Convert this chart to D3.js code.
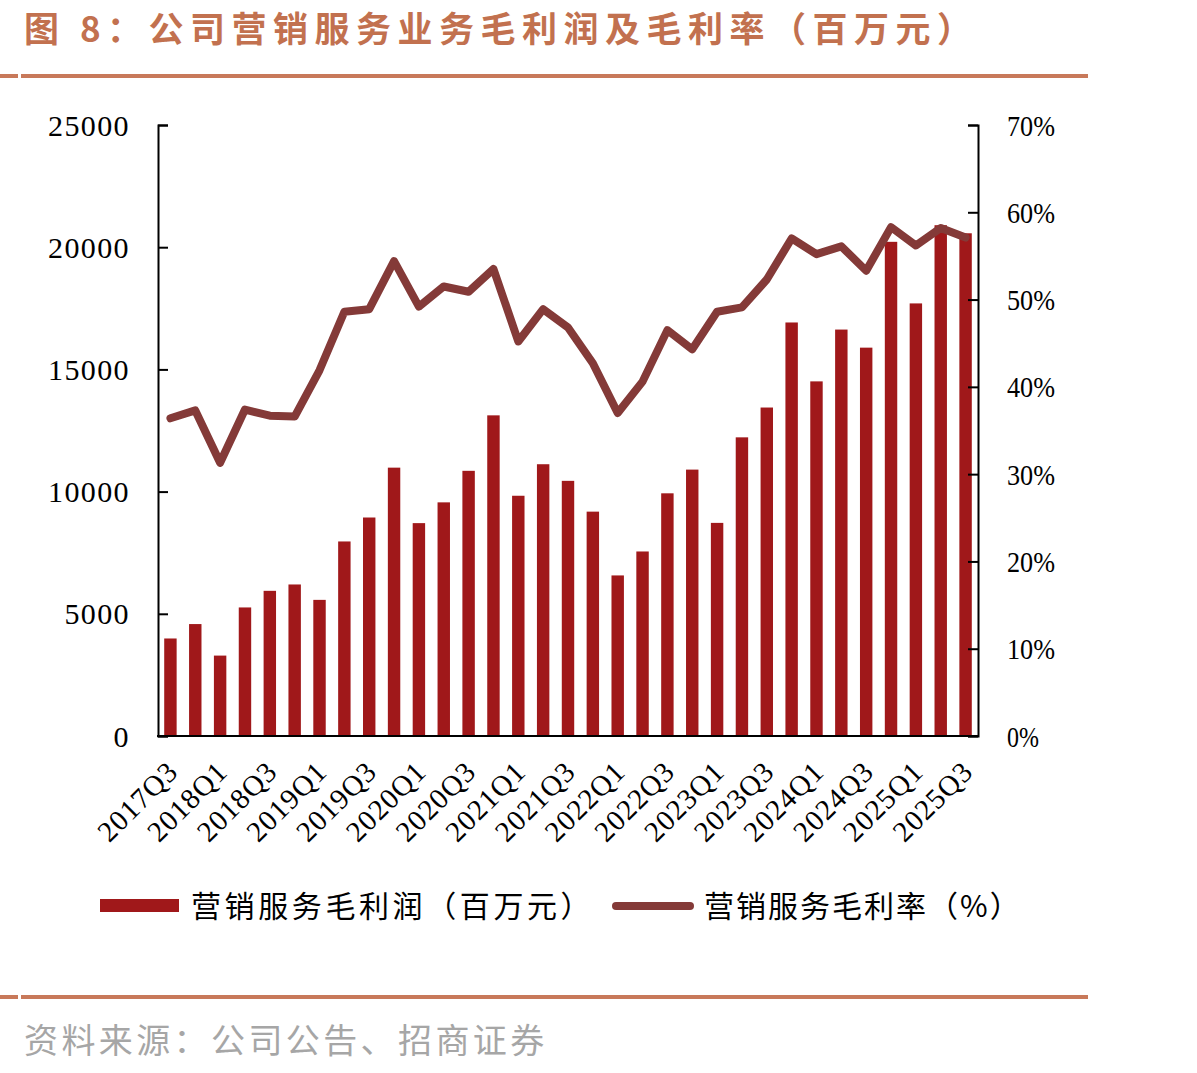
<!DOCTYPE html>
<html><head><meta charset="utf-8">
<script src="https://cdn.jsdelivr.net/npm/d3@7"></script>
<style>
html,body{margin:0;padding:0;background:#fff;}
svg{display:block;}
</style></head>
<body>
<svg id="chart" width="1197" height="1073"></svg>
<script>
const categories = ["2017Q3","2017Q4","2018Q1","2018Q2","2018Q3","2018Q4","2019Q1","2019Q2","2019Q3","2019Q4",
  "2020Q1","2020Q2","2020Q3","2020Q4","2021Q1","2021Q2","2021Q3","2021Q4","2022Q1","2022Q2","2022Q3","2022Q4",
  "2023Q1","2023Q2","2023Q3","2023Q4","2024Q1","2024Q2","2024Q3","2024Q4","2025Q1","2025Q2","2025Q3"];
const grossProfit = [3990,4580,3290,5260,5940,6200,5570,7960,8940,10980,
  8710,9560,10850,13120,9830,11120,10440,9180,6570,7550,9930,10900,
  8720,12220,13440,16920,14510,16630,15890,20220,17700,20900,20570];
const grossMargin = [36.4,37.3,31.3,37.4,36.7,36.6,41.9,48.6,48.9,54.4,
  49.2,51.5,50.9,53.5,45.2,48.9,46.8,42.7,37.0,40.6,46.5,44.3,
  48.6,49.1,52.3,57.0,55.2,56.1,53.3,58.3,56.2,58.2,57.1];
const leftTicks = [0,5000,10000,15000,20000,25000];
const rightTicks = [0,10,20,30,40,50,60,70];
const titleText = "图 8：公司营销服务业务毛利润及毛利率（百万元）";
const legendBar = "营销服务毛利润（百万元）";
const legendLine = "营销服务毛利率（%）";
const sourceText = "资料来源：公司公告、招商证券";

const svg = d3.select("#chart");
const L = 158, R = 978, T = 125, B = 736;
const barColor = "#a0181a", lineColor = "#843a38", accent = "#c8795a";
const serif = "'Liberation Serif','Times New Roman',serif";
const cjk = "'Noto Sans CJK SC','Noto Sans',sans-serif";

const x = d3.scaleBand().domain(categories).range([L, R]).paddingInner(0.5).paddingOuter(0.25);
const yL = d3.scaleLinear().domain([0, 25000]).range([B, T]);
const yR = d3.scaleLinear().domain([0, 70]).range([B, T]);

// title
svg.append("text").attr("x", 24).attr("y", 42).attr("font-family", cjk).attr("font-weight", "bold")
  .attr("font-size", 35).attr("fill", "#c2714f").attr("letter-spacing", 6.5).text(titleText);
svg.append("rect").attr("x", 0).attr("y", 74).attr("width", 18).attr("height", 4).attr("fill", accent);
svg.append("rect").attr("x", 21).attr("y", 74).attr("width", 1067).attr("height", 4).attr("fill", accent);
svg.append("rect").attr("x", 0).attr("y", 995).attr("width", 18).attr("height", 4).attr("fill", accent);
svg.append("rect").attr("x", 21).attr("y", 995).attr("width", 1067).attr("height", 4).attr("fill", accent);

// bars
svg.append("g").selectAll("rect").data(categories).join("rect")
  .attr("x", d => x(d)).attr("width", x.bandwidth())
  .attr("y", (d, i) => yL(grossProfit[i])).attr("height", (d, i) => B - yL(grossProfit[i]))
  .attr("fill", barColor);

// line
const line = d3.line().x((d, i) => x(categories[i]) + x.bandwidth() / 2).y(d => yR(d));
svg.append("path").datum(grossMargin).attr("d", line).attr("fill", "none")
  .attr("stroke", lineColor).attr("stroke-width", 8).attr("stroke-linejoin", "round").attr("stroke-linecap", "round");

// axes
const axL = svg.append("g").attr("transform", `translate(${L},0)`)
  .call(d3.axisRight(yL).tickValues(leftTicks).tickSize(10).tickFormat(d3.format("d")));
axL.selectAll("text").remove();
const axR = svg.append("g").attr("transform", `translate(${R},0)`)
  .call(d3.axisLeft(yR).tickValues(rightTicks).tickSize(10));
axR.selectAll("text").remove();
[axL, axR].forEach(a => {
  a.select(".domain").attr("stroke", "#000").attr("stroke-width", 2);
  a.selectAll(".tick line").attr("stroke", "#000").attr("stroke-width", 2);
});
svg.append("line").attr("x1", L - 1).attr("x2", R + 1).attr("y1", B).attr("y2", B)
  .attr("stroke", "#000").attr("stroke-width", 2);

// left tick labels
svg.append("g").selectAll("text").data(leftTicks).join("text")
  .attr("x", 130).attr("y", d => yL(d)).attr("dy", "0.35em").attr("text-anchor", "end")
  .attr("font-family", serif).attr("font-size", 30).attr("letter-spacing", 1.4).text(d => d);
// right tick labels
svg.append("g").selectAll("text").data(rightTicks).join("text")
  .attr("x", 1007).attr("y", d => yR(d)).attr("dy", "0.35em").attr("text-anchor", "start")
  .attr("font-family", serif).attr("font-size", 30)
  .attr("textLength", d => String(d).length * 16 + 16).attr("lengthAdjust", "spacingAndGlyphs")
  .text(d => d + "%");

// x labels
const xLabels = categories.filter((d, i) => i % 2 === 0);
svg.append("g").selectAll("text").data(xLabels).join("text")
  .attr("transform", d => `translate(${x(d) + x.bandwidth() / 2 + 2},${B + 30}) rotate(-45)`)
  .attr("text-anchor", "end").attr("dy", "0.35em")
  .attr("font-family", serif).attr("font-size", 29).attr("letter-spacing", 1).text(d => d);

// legend
svg.append("rect").attr("x", 100).attr("y", 899).attr("width", 79).attr("height", 13).attr("fill", barColor);
svg.append("text").attr("x", 191).attr("y", 906).attr("dy", "0.35em").attr("font-family", cjk)
  .attr("font-size", 30).attr("letter-spacing", 3.6).text(legendBar);
svg.append("line").attr("x1", 616).attr("x2", 690).attr("y1", 906).attr("y2", 906)
  .attr("stroke", lineColor).attr("stroke-width", 8).attr("stroke-linecap", "round");
svg.append("text").attr("x", 704).attr("y", 906).attr("dy", "0.35em").attr("font-family", cjk)
  .attr("font-size", 30).attr("letter-spacing", 2).text(legendLine);

// source
svg.append("text").attr("x", 24).attr("y", 1041).attr("dy", "0.35em").attr("font-family", cjk)
  .attr("font-size", 34).attr("fill", "#a6a6a6").attr("letter-spacing", 3.4).text(sourceText);
</script>
</body></html>
